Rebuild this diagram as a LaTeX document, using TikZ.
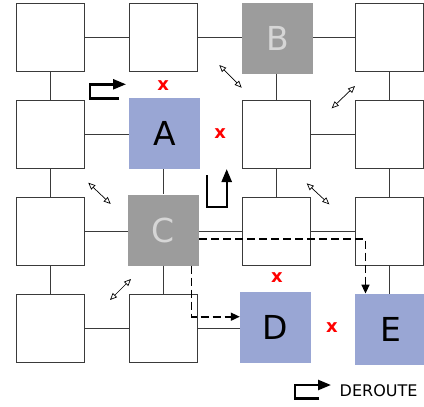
\documentclass[tikz,border=0pt]{standalone}
\usepackage{fontspec}
\setmainfont{DejaVu Sans}
\usetikzlibrary{arrows.meta}

\definecolor{destblue}{HTML}{99A6D4}
\definecolor{busygray}{HTML}{9C9C9C}
\definecolor{busytext}{HTML}{D6D6D6}
\definecolor{edgegray}{HTML}{3A3A3A}

\tikzset{
    cell/.style={draw=edgegray, fill=white, line width=1pt, minimum size=68pt, inner sep=0pt},
    dest/.style={fill=destblue, minimum size=71pt, inner sep=0pt, font=\fontsize{33}{33}\selectfont},
    busy/.style={fill=busygray, text=busytext, minimum size=71pt, inner sep=0pt, font=\fontsize{33}{33}\selectfont},
    link/.style={edgegray, line width=1pt},
    route/.style={dashed, dash pattern=on 8pt off 4pt, line width=1.6pt, -{Triangle[length=9pt,width=8pt]}},
    detour/.style={line width=2.4pt, -{Triangle[length=13pt,width=10pt]}},
    swap/.style={line width=0.7pt, {Triangle[open,length=7pt,width=6pt]}-{Triangle[open,length=7pt,width=6pt]}},
    blocked/.style={text=red, font=\bfseries\fontsize{18}{18}\selectfont, inner sep=0pt},
}

\begin{document}
\begin{tikzpicture}[x=1pt,y=-1pt]
    \useasboundingbox (0,0) rectangle (424,407);

    % Routers, row by row
    \node[cell] (r1c1) at (50.3,37) {};
    \node[cell] (r1c2) at (163.5,37) {};
    \node[busy] (B)    at (277.5,38) {B};
    \node[cell] (r1c4) at (389.5,37) {};

    \node[cell] (r2c1) at (50.3,134.2) {};
    \node[dest] (A)    at (164.5,133.3) {A};
    \node[cell] (r2c3) at (276.7,134.2) {};
    \node[cell] (r2c4) at (389.5,134.2) {};

    \node[cell] (r3c1) at (50.3,231) {};
    \node[busy] (C)    at (163.5,230) {C};
    \node[cell] (r3c3) at (276.7,231) {};
    \node[cell] (r3c4) at (389.5,231) {};

    \node[cell] (r4c1) at (50.3,328) {};
    \node[cell] (r4c2) at (163.5,328) {};
    \node[dest] (D)    at (275.5,327.3) {D};
    \node[dest] (E)    at (390.5,329.3) {E};

    % Horizontal links
    \draw[link] (r1c1) -- (r1c2);
    \draw[link] (r1c2) -- (r1c2 -| B.west);
    \draw[link] (B.east |- r1c4) -- (r1c4);
    \draw[link] (r2c1) -- (r2c1 -| A.west);
    \draw[link] (r2c3) -- (r2c4);
    \draw[link] (r3c1) -- (r3c1 -| C.west);
    \draw[link] (r3c3 -| C.east) -- (r3c3);
    \draw[link] (r3c3) -- (r3c4);
    \draw[link] (r4c1) -- (r4c2);
    \draw[link] (r4c2) -- (r4c2 -| D.west);

    % Vertical links
    \draw[link] (r1c1) -- (r2c1);
    \draw[link] (B.south -| r2c3) -- (r2c3);
    \draw[link] (r1c4) -- (r2c4);
    \draw[link] (r2c1) -- (r3c1);
    \draw[link] (A.south -| C) -- (C);
    \draw[link] (r2c3) -- (r3c3);
    \draw[link] (r2c4) -- (r3c4);
    \draw[link] (r3c1) -- (r4c1);
    \draw[link] (C) -- (r4c2);
    \draw[link] (r3c4) -- (r3c4 |- E.north);

    % Faulty links
    \node[blocked] (xab) at (163.3,85.5) {x};
    \node[blocked] (xac) at (220.3,133.5) {x};
    \node[blocked] (xd)  at (277,278) {x};
    \node[blocked] (xde) at (332,328) {x};

    % Routes from C
    \draw[route] ([yshift=-9pt]C.east) -| ([xshift=-25pt]E.north);
    \draw[route] ([xshift=28pt]C.south) |- ([yshift=10.6pt]D.west);

    % Deroute arrows
    \draw[detour] (119,98.3) -- (90,98.3) -- (90,84.3) -- (126,84.3);
    \draw[detour] (206.7,175) -- (206.7,206.7) -- (226.7,206.7) -- (226.7,169);

    % Exchanges
    \draw[swap] (219.3,65) -- (241.7,87.7);
    \draw[swap] (331.7,108.3) -- (355,86);
    \draw[swap] (88.3,182.7) -- (110.7,204);
    \draw[swap] (306.7,183.3) -- (329.3,204.3);
    \draw[swap] (110,300) -- (131,279);

    % Legend
    \draw[detour] (319.3,398.3) -- (295,398.3) -- (295,385) -- (331,385);
    \node[anchor=west, inner sep=0pt, font=\fontsize{16}{16}\selectfont] (leg) at (339.5,391) {DEROUTE};
\end{tikzpicture}
\end{document}
